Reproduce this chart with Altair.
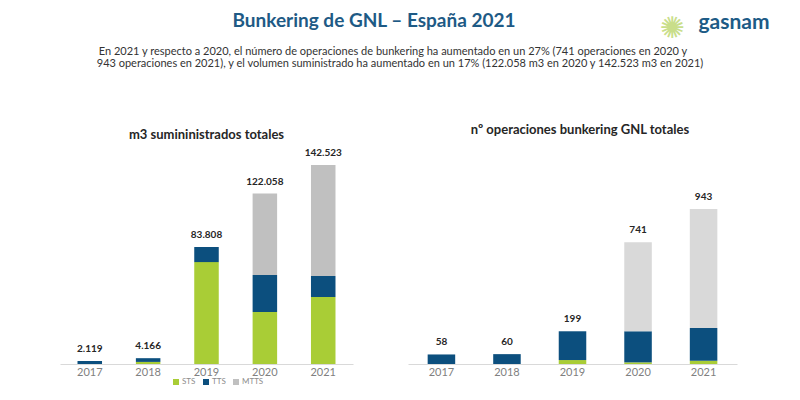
import pandas as pd
import altair as alt

years = ["2017", "2018", "2019", "2020", "2021"]
tipos = ["STS", "TTS", "MTTS"]

# m3 suministrados por tipo de operacion
m3_sts = [0, 1500, 73000, 37250, 48000]
m3_tts = [2119, 2666, 10808, 26500, 15000]
m3_mtts = [0, 0, 0, 58308, 79523]
m3_total = [2119, 4166, 83808, 122058, 142523]

# numero de operaciones por tipo
ops_sts = [0, 0, 24, 10, 20]
ops_tts = [58, 60, 175, 189, 199]
ops_mtts = [0, 0, 0, 542, 724]
ops_total = [58, 60, 199, 741, 943]

titulo = "Bunkering de GNL – España 2021"
texto = [
    "En 2021 y respecto a 2020, el número de operaciones de bunkering ha aumentado en un 27% (741 operaciones en 2020 y",
    "943 operaciones en 2021), y el volumen suministrado ha aumentado en un 17% (122.058 m3 en 2020 y 142.523 m3 en 2021)",
]
titulo_m3 = "m3 sumininistrados totales"
titulo_ops = "nº operaciones bunkering GNL totales"

AZUL = "#0c4f7e"
VERDE = "#a9cd36"
FUENTE = "Lato"


def largo(sts, tts, mtts):
    rows = []
    for i, y in enumerate(years):
        for j, v in enumerate([sts[i], tts[i], mtts[i]]):
            rows.append({"year": y, "tipo": tipos[j], "orden": j, "valor": v})
    return pd.DataFrame(rows)


def miles(v):
    return f"{v:,}".replace(",", ".")


def texto_fijo(t, x, y, size, color, weight="normal", font=FUENTE, baseline="middle"):
    return alt.Chart(pd.DataFrame({"t": [t]})).mark_text(
        fontSize=size, color=color, fontWeight=weight, font=font,
        baseline=baseline, align="center"
    ).encode(text="t:N", x=alt.value(x), y=alt.value(y))


def panel(df, tot, tit, tit_size, tit_x, tit_y, ymax, gris, w, legend, yaxis):
    totales = pd.DataFrame({"year": years, "total": tot, "label": [miles(v) for v in tot]})
    x = alt.X("year:N", title=None, sort=years,
              scale=alt.Scale(paddingInner=0.58, paddingOuter=0.3),
              axis=alt.Axis(labelAngle=0, ticks=False, labelPadding=2, labelFontSize=11,
                            labelColor="#808080", domainColor="#d9d9d9", labelFont=FUENTE))
    ysc = alt.Scale(domain=[0, ymax])
    bars = alt.Chart(df).mark_bar().encode(
        x=x,
        y=alt.Y("valor:Q", stack="zero", scale=ysc, axis=yaxis),
        color=alt.Color("tipo:N", scale=alt.Scale(domain=tipos, range=[VERDE, AZUL, gris]), legend=legend),
        order=alt.Order("orden:Q"),
    )
    etiquetas = alt.Chart(totales).mark_text(
        fontSize=10, fontWeight="bold", color="#262626", dy=-12, baseline="middle", font=FUENTE
    ).encode(x=x, y=alt.Y("total:Q", scale=ysc, axis=yaxis), text="label:N")
    cab = texto_fijo(tit, tit_x, tit_y, tit_size, "#262626", weight="bold")
    return alt.layer(bars, etiquetas, cab).properties(width=w, height=246)


leyenda = alt.Legend(orient="none", legendX=112, legendY=260, direction="horizontal", title=None,
                     symbolType="square", symbolSize=36, symbolStrokeWidth=0, labelFontSize=8,
                     labelColor="#8c8c8c", columnPadding=6, labelOffset=2, padding=0, labelFont=FUENTE)
eje_oculto = alt.Axis(labels=False, ticks=False, domain=False, grid=False, title=None,
                      minExtent=52, maxExtent=52)

izq = panel(largo(m3_sts, m3_tts, m3_mtts), m3_total, titulo_m3, 13, 146.5, 17,
            176220, "#c0c0c0", 293, leyenda, eje_oculto)
der = panel(largo(ops_sts, ops_tts, ops_mtts), ops_total, titulo_ops, 13, 172, 12,
            1496, "#d9d9d9", 329, None, None)

fila = alt.hconcat(izq, der, spacing=55).resolve_scale(
    x="independent", y="independent", color="independent"
).resolve_legend(color="independent")

# la cabecera queda alineada con el area de trazado del primer panel (x de pagina = 60 + x)
cabecera = alt.layer(
    texto_fijo(titulo, 314, 4, 19, "#1e5a85", weight="bold", baseline="top"),
    texto_fijo(texto[0], 333, 43.7, 11, "#333333"),
    texto_fijo(texto[1], 340, 56.3, 11, "#333333"),
    texto_fijo("✺", 612, 21, 30, "#c9de8a", font="DejaVu Sans"),
    texto_fijo("gasnam", 674, 4, 21, "#1d5b86", weight="bold", baseline="top"),
).properties(width=720, height=110)

chart = alt.vconcat(cabecera, fila, spacing=0).properties(padding=0).configure_view(stroke=None)

chart.save("out.html", embed_options={"renderer": "svg", "actions": False})
